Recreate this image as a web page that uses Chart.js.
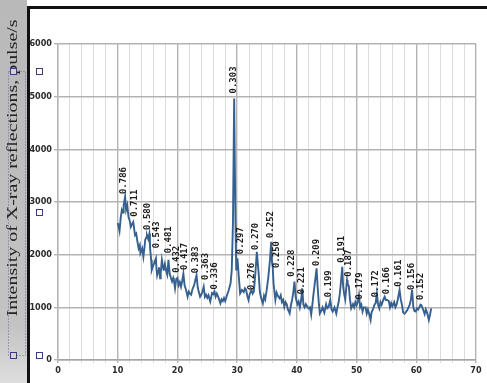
<!DOCTYPE html>
<html>
<head>
<meta charset="utf-8">
<script src="https://cdn.jsdelivr.net/npm/chart.js@4/dist/chart.umd.min.js"></script>
<style>
  html, body { margin: 0; padding: 0; background: #fff; }
  #wrap { width: 487px; height: 383px; }
</style>
</head>
<body>
<div id="wrap"><canvas id="xrd" width="487" height="383"></canvas></div>
<script>
// 2-theta positions (deg) and intensity (pulse/s)
const twoTheta = [
  10.0, 10.1, 10.3, 10.5, 10.7, 10.9, 11.0, 11.24, 11.4, 11.6, 11.8, 12.0, 12.2, 12.4, 12.6, 12.8,
  12.9, 13.1, 13.3, 13.5, 13.7, 13.8, 14.1, 14.3, 14.5, 14.6, 14.8, 14.9, 15.1, 15.3, 15.4, 15.6,
  15.7, 15.9, 16.0, 16.2, 16.4, 16.5, 16.6, 16.8, 16.9, 17.1, 17.2, 17.4, 17.6, 17.7, 17.9, 18.1,
  18.3, 18.5, 18.7, 18.9, 19.1, 19.3, 19.4, 19.6, 19.8, 20.0, 20.2, 20.4, 20.6, 20.8, 21.0, 21.2,
  21.4, 21.7, 21.9, 22.1, 22.3, 22.5, 22.8, 23.0, 23.2, 23.4, 23.5, 23.8, 24.0, 24.2, 24.4, 24.6,
  24.8, 25.0, 25.2, 25.5, 25.8, 26.0, 26.2, 26.4, 26.6, 26.9, 27.2, 27.4, 27.6, 27.8, 28.0, 28.3,
  28.6, 28.9, 29.1, 29.3, 29.5, 29.7, 29.85, 30.05, 30.3, 30.5, 30.8, 31.1, 31.3, 31.5, 31.7, 31.9,
  32.1, 32.4, 32.6, 32.8, 33.05, 33.3, 33.6, 33.8, 34.0, 34.3, 34.5, 34.7, 34.95, 35.2, 35.5, 35.7,
  35.85, 35.95, 36.1, 36.4, 36.6, 36.9, 37.1, 37.3, 37.5, 37.7, 37.9, 38.1, 38.3, 38.5, 38.8, 39.0,
  39.2, 39.4, 39.6, 39.8, 39.9, 40.1, 40.3, 40.5, 40.7, 40.9, 41.1, 41.3, 41.5, 41.8, 42.0, 42.2,
  42.4, 42.6, 42.8, 43.05, 43.3, 43.5, 43.7, 43.85, 44.1, 44.3, 44.6, 44.9, 45.1, 45.3, 45.6, 45.8,
  46.0, 46.3, 46.6, 46.8, 47.0, 47.2, 47.4, 47.6, 47.75, 47.9, 48.1, 48.4, 48.5, 48.7, 48.9, 49.1,
  49.4, 49.6, 49.8, 50.0, 50.2, 50.4, 50.6, 50.8, 51.0, 51.2, 51.5, 51.7, 51.9, 52.1, 52.35, 52.5,
  52.8, 53.0, 53.2, 53.4, 53.6, 53.8, 54.0, 54.2, 54.5, 54.7, 54.9, 55.1, 55.4, 55.6, 55.8, 56.0,
  56.3, 56.5, 56.7, 56.9, 57.2, 57.4, 57.6, 57.8, 58.0, 58.2, 58.5, 58.7, 58.9, 59.1, 59.3, 59.5,
  59.7, 59.9, 60.1, 60.3, 60.5, 60.7, 60.85, 61.0, 61.2, 61.4, 61.6, 61.8, 62.1, 62.3, 62.5
];
const intensity = [
  2600, 2560, 2450, 2700, 2850, 2800, 2940, 3100, 2850, 2940, 2720, 2650, 2530, 2580, 2620, 2450,
  2370, 2400, 2250, 2120, 2180, 2030, 2120, 1960, 2150, 2280, 2330, 2370, 2300, 2400, 2150, 1900,
  1710, 1780, 1800, 1870, 1930, 1720, 1610, 1700, 1760, 1550, 1650, 1900, 1760, 1700, 1820, 1700,
  1620, 1900, 1640, 1560, 1490, 1560, 1520, 1360, 1540, 1560, 1420, 1480, 1390, 1500, 1640, 1420,
  1350, 1200, 1300, 1260, 1240, 1340, 1420, 1520, 1610, 1380, 1330, 1200, 1240, 1300, 1390, 1200,
  1240, 1180, 1230, 1110, 1270, 1250, 1300, 1200, 1260, 1180, 1075, 1150, 1120, 1180, 1120, 1230,
  1330, 1455, 1710, 2600, 4965, 2800, 1700, 1930, 1550, 1265, 1330, 1290, 1360, 1330, 1220, 1140,
  1250, 1330, 1260, 1300, 1645, 2055, 1645, 1300, 1180, 1075, 1220, 1150, 1330, 1550, 1900, 2245,
  1850, 1770, 1450, 1140, 1280, 1200, 1170, 1230, 1100, 1140, 1010, 1100, 1060, 960, 885, 1040,
  1140, 1280, 1490, 1200, 1140, 1060, 1110, 1000, 1120, 1360, 1050, 1000, 1060, 1000, 980, 1000,
  860, 1050, 1265, 1500, 1740, 1350, 1050, 885, 940, 1000, 900, 1060, 980, 1000, 1140, 960,
  920, 1000, 880, 1000, 1100, 1265, 1500, 1770, 1400, 1265, 1150, 1520, 1450, 1400, 1150, 980,
  1060, 1000, 1100, 1040, 1100, 1235, 1000, 1050, 920, 1000, 1000, 880, 960, 880, 760, 900,
  980, 1050, 1080, 1265, 1050, 980, 1100, 1050, 1150, 1200, 1140, 1140, 1120, 1000, 1080, 1020,
  1100, 1000, 1050, 1150, 1330, 1150, 1050, 900, 880, 900, 950, 1000, 1050, 1150, 1330, 1000,
  930, 920, 980, 960, 1000, 1050, 1040, 1000, 940, 870, 960, 900, 760, 860, 980
];

// d-spacing annotations (nm): where each one sits (2-theta, intensity at its foot)
const peakLabels = [
  '0.786', '0.711', '0.580', '0.543', '0.481', '0.432', '0.417', '0.383', '0.363', '0.336',
  '0.303', '0.297', '0.276', '0.270', '0.252', '0.250', '0.228', '0.221', '0.209', '0.199',
  '0.191', '0.187', '0.179', '0.172', '0.166', '0.161', '0.156', '0.152'
];
const labelTwoTheta = [
  10.96, 12.8, 14.98, 16.56, 18.51, 19.8, 21.19, 22.99, 24.66, 26.17,
  29.41, 30.54, 32.5, 33.05, 35.57, 36.69, 39.21, 40.72, 43.29, 45.35,
  47.43, 48.71, 50.55, 53.19, 55.03, 57.1, 59.18, 60.74
];
const labelFoot = [
  3150, 2720, 2470, 2120, 2025, 1655, 1710, 1645, 1520, 1340,
  5060, 2010, 1330, 2090, 2315, 1745, 1580, 1250, 1785, 1190,
  1845, 1580, 1150, 1190, 1250, 1390, 1330, 1140
];

const yTitle = 'Intensity of X-ray reflections, pulse/s';

const points = twoTheta.map((x, i) => ({ x: x, y: intensity[i] }));

// Scanned-page decorations: grey side panel, black frame, rotated title
const pageDecor = {
  id: 'pageDecor',
  beforeDraw(chart) {
    const ctx = chart.ctx;
    ctx.save();
    ctx.fillStyle = '#fff';
    ctx.fillRect(0, 0, chart.width, chart.height);

    const g = ctx.createLinearGradient(0, 0, 0, chart.height);
    g.addColorStop(0, '#b9b9b9');
    g.addColorStop(0.85, '#c3c3c3');
    g.addColorStop(1, '#dedede');
    ctx.fillStyle = g;
    ctx.fillRect(0, 0, 27, chart.height);

    ctx.fillStyle = '#111';
    ctx.fillRect(27, 6, 3, chart.height - 6);
    ctx.fillRect(27, 6, chart.width - 27, 3);

    // axis title, stretched along its length like the scan
    ctx.translate(13, 168);
    ctx.rotate(-Math.PI / 2);
    ctx.font = '14px "Liberation Serif", "Times New Roman", serif';
    const w = ctx.measureText(yTitle).width;
    ctx.scale(297 / w, 1);
    ctx.fillStyle = '#222';
    ctx.textAlign = 'center';
    ctx.textBaseline = 'middle';
    ctx.fillText(yTitle, 0, 0);
    ctx.restore();
  },
  afterDraw(chart) {
    const ctx = chart.ctx;
    ctx.save();
    ctx.strokeStyle = '#6a6a86';
    ctx.lineWidth = 1;
    ctx.setLineDash([1, 2]);
    ctx.strokeRect(8.5, 71.5, 17, 284);
    ctx.setLineDash([]);
    const handles = [[13, 71], [13, 355], [39, 71], [39, 212], [39, 355]];
    handles.forEach(([hx, hy]) => {
      ctx.fillStyle = hx < 27 ? '#d4d4d4' : '#fff';
      ctx.fillRect(hx - 3, hy - 3, 7, 7);
      ctx.strokeStyle = '#3c3c78';
      ctx.strokeRect(hx - 2.5, hy - 2.5, 6, 6);
    });
    ctx.restore();
  }
};

// d-spacing labels, rotated to read upwards
const peakText = {
  id: 'peakText',
  afterDatasetsDraw(chart) {
    const ctx = chart.ctx;
    const xs = chart.scales.x;
    const ys = chart.scales.y;
    ctx.save();
    ctx.font = 'bold 9px "DejaVu Sans Mono", monospace';
    ctx.fillStyle = '#1c1c1c';
    ctx.textAlign = 'left';
    ctx.textBaseline = 'middle';
    peakLabels.forEach((lbl, i) => {
      ctx.save();
      ctx.translate(xs.getPixelForValue(labelTwoTheta[i]), ys.getPixelForValue(labelFoot[i]));
      ctx.rotate(-Math.PI / 2);
      ctx.fillText(lbl, 0, 0);
      ctx.restore();
    });
    ctx.restore();
  }
};

const tickFont = { family: '"Liberation Sans Narrow", "DejaVu Sans Condensed", sans-serif', size: 9, weight: 'bold' };

new Chart(document.getElementById('xrd'), {
  type: 'line',
  data: {
    datasets: [
      {
        data: points,
        borderColor: '#36608f',
        borderWidth: 1.9,
        pointRadius: 0,
        tension: 0,
        fill: false,
      },
    ],
  },
  options: {
    responsive: false,
    animation: false,
    devicePixelRatio: 1,
    layout: {
      padding: { left: 0, top: 44, right: 11, bottom: 0 },
    },
    plugins: {
      legend: { display: false },
      tooltip: { enabled: false },
    },
    scales: {
      x: {
        type: 'linear',
        min: 0,
        max: 70,
        afterFit: (s) => { s.height = 23; },
        ticks: {
          stepSize: 2,
          autoSkip: false,
          maxRotation: 0,
          padding: 2,
          color: '#2a2a2a',
          font: tickFont,
          callback: (v) => (v % 10 === 0 ? String(v) : ''),
        },
        grid: {
          color: (c) => (c.tick && c.tick.value % 10 === 0 ? '#b3b3b3' : '#dcdcdc'),
          lineWidth: (c) => (c.tick && c.tick.value % 10 === 0 ? 1.4 : 1),
          tickLength: 3,
        },
        border: { color: '#a5a5a5', width: 1.4 },
      },
      y: {
        min: 0,
        max: 6000,
        afterFit: (s) => { s.width = 58; },
        ticks: {
          stepSize: 1000,
          padding: 2,
          color: '#2a2a2a',
          font: tickFont,
          callback: (v) => String(v),
        },
        grid: {
          color: '#b3b3b3',
          lineWidth: 1.4,
          tickLength: 4,
        },
        border: { color: '#b3b3b3', width: 1.4 },
      },
    },
  },
  plugins: [pageDecor, peakText],
});
</script>
</body>
</html>
